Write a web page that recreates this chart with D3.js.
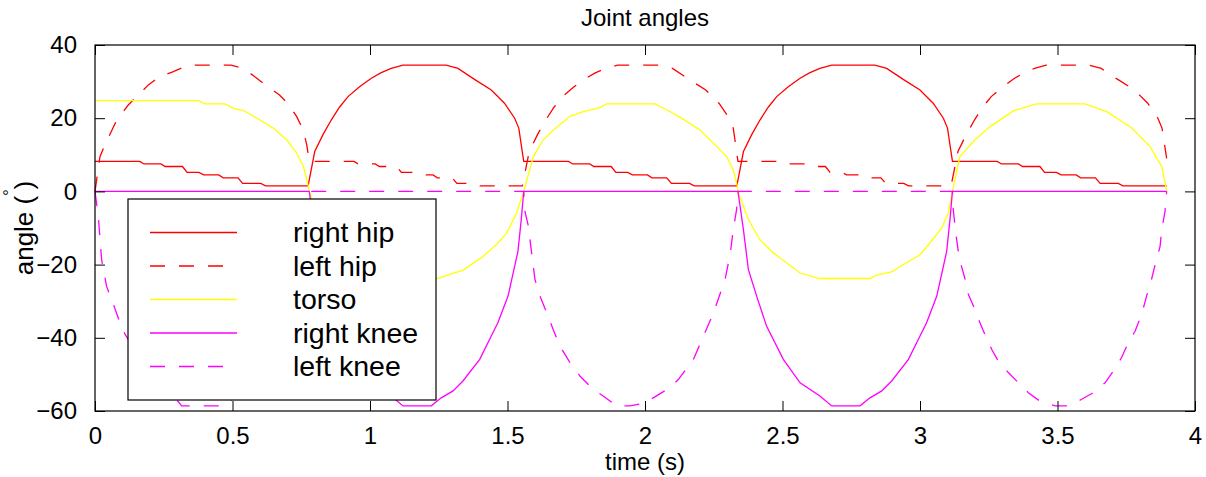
<!DOCTYPE html>
<html>
<head>
<meta charset="utf-8">
<script src="https://cdn.jsdelivr.net/npm/d3@7"></script>
<style>
  body { margin: 0; background: #fff; }
  text { font-family: "Liberation Sans", Arial, Helvetica, sans-serif; fill: #000; }
</style>
</head>
<body>
<div id="vis"></div>
<script>

// time (s), angle (deg)
var rightHip = [
  [0,8.2],[0.163,8.2],[0.178,7.5],[0.24,7.5],[0.255,6.8],[0.318,6.8],[0.335,5.2],[0.378,5.2],[0.395,4.5],[0.45,4.5],[0.466,3.7],[0.52,3.7],[0.537,2.2],[0.603,2.2],[0.62,1.5],[0.775,1.5],
  [0.799,10.9],[0.829,15.5],[0.859,19.5],[0.889,23],[0.92,25.9],[0.962,28.6],[1.005,30.9],[1.039,32.4],[1.077,33.6],[1.12,34.5],[1.277,34.5],[1.32,33.6],[1.38,30.6],[1.441,27.7],[1.489,24.1],[1.526,20],[1.541,17.3],
  [1.559,8.2],[1.722,8.2],[1.737,7.5],[1.799,7.5],[1.814,6.8],[1.877,6.8],[1.894,5.2],[1.937,5.2],[1.954,4.5],[2.009,4.5],[2.025,3.7],[2.079,3.7],[2.096,2.2],[2.162,2.2],[2.179,1.5],[2.334,1.5],
  [2.358,10.9],[2.388,15.5],[2.418,19.5],[2.448,23],[2.479,25.9],[2.521,28.6],[2.564,30.9],[2.598,32.4],[2.636,33.6],[2.679,34.5],[2.836,34.5],[2.879,33.6],[2.939,30.6],[3.0,27.7],[3.048,24.1],[3.085,20],[3.1,17.3],
  [3.118,8.2],[3.281,8.2],[3.296,7.5],[3.358,7.5],[3.373,6.8],[3.436,6.8],[3.453,5.2],[3.496,5.2],[3.513,4.5],[3.568,4.5],[3.584,3.7],[3.638,3.7],[3.655,2.2],[3.721,2.2],[3.738,1.5],[3.897,1.5]
];

var leftHip = [
  [0,0],[0.018,9.5],[0.036,12.7],[0.079,19.5],[0.121,23.6],[0.158,26.4],[0.194,29.1],[0.236,31.4],[0.285,32.7],[0.327,34.1],[0.345,34.5],[0.495,34.5],[0.54,33.6],[0.58,31.4],[0.62,29.1],[0.67,26.4],[0.70,24.1],[0.733,20.5],[0.757,16.8],[0.77,12.7],
  [0.779,8.2],[0.942,8.2],[0.957,7.5],[1.019,7.5],[1.034,6.8],[1.097,6.8],[1.114,5.2],[1.157,5.2],[1.174,4.5],[1.229,4.5],[1.245,3.7],[1.299,3.7],[1.316,2.2],[1.382,2.2],[1.399,1.5],[1.554,1.5],
  [1.579,10.9],[1.609,15.5],[1.639,19.5],[1.669,23],[1.7,25.9],[1.742,28.6],[1.785,30.9],[1.819,32.4],[1.857,33.6],[1.9,34.5],[2.057,34.5],[2.1,33.6],[2.16,30.6],[2.221,27.7],[2.269,24.1],[2.306,20],[2.321,17.3],
  [2.338,8.2],[2.501,8.2],[2.516,7.5],[2.578,7.5],[2.593,6.8],[2.656,6.8],[2.673,5.2],[2.716,5.2],[2.733,4.5],[2.788,4.5],[2.804,3.7],[2.858,3.7],[2.875,2.2],[2.941,2.2],[2.958,1.5],[3.113,1.5],
  [3.138,10.9],[3.168,15.5],[3.198,19.5],[3.228,23],[3.259,25.9],[3.301,28.6],[3.344,30.9],[3.378,32.4],[3.416,33.6],[3.459,34.5],[3.616,34.5],[3.659,33.6],[3.719,30.6],[3.78,27.7],[3.828,24.1],[3.865,20],[3.88,17.3],[3.897,9]
];

var torso = [
  [0,24.8],[0.375,24.8],[0.4,23.9],[0.473,23.9],[0.503,22.7],[0.54,22.1],[0.6,19.5],[0.648,17.3],[0.697,14.1],[0.733,10.5],[0.758,6.8],[0.776,1.4],[0.779,0],
  [0.817,-7.7],[0.859,-13.2],[0.908,-16.8],[1.005,-22.3],[1.077,-23.8],[1.245,-23.8],[1.29,-22.7],[1.339,-21.5],[1.412,-17.7],[1.46,-14.5],[1.497,-11.4],[1.533,-5.9],[1.559,0],
  [1.594,9.5],[1.63,14.1],[1.667,16.8],[1.727,20.5],[1.776,21.8],[1.836,22.9],[1.86,23.9],[2.036,23.9],[2.079,22.3],[2.127,20.3],[2.2,16.8],[2.249,13.2],[2.297,9.5],[2.321,5.9],[2.336,1.4],[2.338,0],
  [2.376,-7.7],[2.418,-13.2],[2.467,-16.8],[2.564,-22.3],[2.636,-23.8],[2.818,-23.8],[2.842,-22.9],[2.897,-22],[2.927,-20.6],[3.0,-17.3],[3.036,-14.1],[3.079,-10],[3.103,-5.9],[3.118,0],
  [3.145,9.5],[3.2,14.1],[3.255,17.7],[3.339,22],[3.424,23.9],[3.6,23.9],[3.679,21.8],[3.77,17.3],[3.836,12.3],[3.879,6.8],[3.897,0]
];

var rightKnee = [
  [0,0],[0.779,0],
  [0.799,-10.5],[0.817,-21.4],[0.847,-28.6],[0.883,-36.8],[0.944,-45.9],[1.005,-52.3],[1.077,-55.9],[1.12,-58.6],[1.223,-58.6],[1.259,-56.4],[1.302,-54.5],[1.338,-51.8],[1.399,-45.9],[1.441,-39.5],[1.465,-35.9],[1.502,-28.6],[1.538,-16.4],[1.55,-7.7],[1.559,0],
  [2.338,0],
  [2.358,-10.5],[2.376,-21.4],[2.406,-28.6],[2.442,-36.8],[2.503,-45.9],[2.564,-52.3],[2.636,-55.9],[2.679,-58.6],[2.782,-58.6],[2.818,-56.4],[2.861,-54.5],[2.897,-51.8],[2.958,-45.9],[3.0,-39.5],[3.024,-35.9],[3.061,-28.6],[3.097,-16.4],[3.109,-7.7],[3.118,0],
  [3.897,0]
];

var leftKnee = [
  [0,0],[0.012,-6.8],[0.024,-18.6],[0.042,-25.9],[0.065,-30.5],[0.091,-35.9],[0.109,-39],[0.143,-43.2],[0.167,-46.4],[0.203,-49.5],[0.246,-52.7],[0.276,-55],[0.315,-58.6],[0.466,-58.6],[0.5,-56.8],[0.535,-55],[0.575,-52.3],[0.605,-49.1],[0.63,-45.4],[0.655,-41.3],[0.675,-38.2],[0.695,-33.6],[0.712,-28.6],[0.728,-24],[0.74,-20],[0.755,-15],[0.762,-10.5],[0.773,-5.5],[0.779,0],
  [1.559,0],
  [1.562,-5],[1.576,-9.5],[1.588,-17],[1.6,-24.1],[1.62,-29],[1.643,-33.2],[1.665,-37.5],[1.691,-42.3],[1.725,-46.5],[1.764,-50.5],[1.812,-54.1],[1.848,-55.9],[1.897,-58.6],[1.945,-58.6],[2.006,-57.7],[2.03,-56.4],[2.091,-53.6],[2.121,-51.4],[2.176,-45.9],[2.21,-40],[2.249,-33.2],[2.291,-24.1],[2.31,-17],[2.321,-10.4],[2.333,-5],[2.338,0],
  [3.118,0],
  [3.121,-5],[3.13,-11.4],[3.14,-16.8],[3.151,-20.5],[3.164,-24],[3.176,-28.2],[3.2,-32.3],[3.218,-35.9],[3.236,-39.1],[3.261,-43.2],[3.285,-46.4],[3.321,-49.5],[3.364,-52.7],[3.394,-55],[3.436,-57.3],[3.491,-58.6],[3.539,-58.6],[3.588,-56.8],[3.63,-55],[3.673,-52.3],[3.703,-49.1],[3.733,-45.4],[3.758,-41.3],[3.782,-38.2],[3.806,-33.6],[3.824,-28.6],[3.842,-24],[3.855,-20],[3.873,-15],[3.879,-10.5],[3.891,-5.5],[3.897,0]
];

var seriesNames = ['right hip', 'left hip', 'torso', 'right knee', 'left knee'];
var xTicks = [0, 0.5, 1, 1.5, 2, 2.5, 3, 3.5, 4];
var yTicks = [-60, -40, -20, 0, 20, 40];


function jointChart() {

  var width = 1206;
  var height = 477;
  var margin = { top: 45, right: 11, bottom: 66, left: 95 };
  var innerW = width - margin.left - margin.right;
  var innerH = height - margin.top - margin.bottom;
  var tickLen = 10;

  var styles = [
    { data: rightHip, color: '#ff0000', dash: null },
    { data: leftHip, color: '#ff0000', dash: '15,14' },
    { data: torso, color: '#ffff00', dash: null },
    { data: rightKnee, color: '#ff00ff', dash: null },
    { data: leftKnee, color: '#ff00ff', dash: '15,14' }
  ];

  var x = d3.scaleLinear().domain([0, 4]).range([0, innerW]);
  var y = d3.scaleLinear().domain([-60, 40]).range([innerH, 0]);

  var svg = d3.select('#vis').append('svg')
    .attr('width', width)
    .attr('height', height);

  var g = svg.append('g')
    .attr('transform', 'translate(' + margin.left + ',' + margin.top + ')');

  var line = d3.line()
    .x(function (d) { return x(d[0]); })
    .y(function (d) { return y(d[1]); });

  g.selectAll('.series')
    .data(styles)
    .enter().append('path')
    .attr('class', 'series')
    .attr('d', function (d) { return line(d.data); })
    .attr('fill', 'none')
    .attr('stroke', function (d) { return d.color; })
    .attr('stroke-width', 1.3)
    .attr('stroke-dasharray', function (d) { return d.dash; });

  // axes, ticks point inward on every side
  var fmt = function (d) { return String(d).replace('-', '\u2212'); };

  g.append('g')
    .attr('transform', 'translate(0,' + innerH + ')')
    .call(d3.axisBottom(x).tickValues(xTicks).tickSizeInner(-tickLen).tickSizeOuter(0).tickPadding(16).tickFormat(fmt));
  g.append('g')
    .call(d3.axisTop(x).tickValues(xTicks).tickSizeInner(-tickLen).tickSizeOuter(0).tickFormat(''));
  g.append('g')
    .call(d3.axisLeft(y).tickValues(yTicks).tickSizeInner(-tickLen).tickSizeOuter(0).tickPadding(18).tickFormat(fmt));
  g.append('g')
    .attr('transform', 'translate(' + innerW + ',0)')
    .call(d3.axisRight(y).tickValues(yTicks).tickSizeInner(-tickLen).tickSizeOuter(0).tickFormat(''));

  g.selectAll('.domain').remove();
  g.selectAll('.tick line').attr('stroke', '#000');
  g.selectAll('.tick text')
    .style('font-size', '24px')
    .style('font-family', '"Liberation Sans", Arial, sans-serif')
    .attr('fill', '#000');

  g.append('rect')
    .attr('width', innerW)
    .attr('height', innerH)
    .attr('fill', 'none')
    .attr('stroke', '#000')
    .attr('stroke-width', 1.2);

  svg.append('text')
    .attr('x', margin.left + innerW / 2)
    .attr('y', 26)
    .attr('text-anchor', 'middle')
    .style('font-size', '24px')
    .text('Joint angles');

  svg.append('text')
    .attr('x', margin.left + innerW / 2)
    .attr('y', 470)
    .attr('text-anchor', 'middle')
    .style('font-size', '24px')
    .text('time (s)');

  var yl = svg.append('text')
    .attr('transform', 'translate(33,' + (margin.top + innerH / 2) + ') rotate(-90)')
    .attr('text-anchor', 'middle')
    .style('font-size', '26px');
  yl.append('tspan').text('angle (');
  yl.append('tspan').attr('dy', -18).style('font-size', '16px').text('\u00b0');
  yl.append('tspan').attr('dy', 18).text(')');

  // legend
  var lg = svg.append('g').attr('transform', 'translate(128,199)');
  lg.append('rect')
    .attr('width', 308)
    .attr('height', 201)
    .attr('fill', '#fff')
    .attr('stroke', '#000')
    .attr('stroke-width', 1.2);

  var rows = lg.selectAll('.row')
    .data(styles)
    .enter().append('g')
    .attr('class', 'row')
    .attr('transform', function (d, i) { return 'translate(0,' + (33.5 + i * 33.5) + ')'; });

  rows.append('line')
    .attr('x1', 22).attr('x2', 109)
    .attr('stroke', function (d) { return d.color; })
    .attr('stroke-width', 1.3)
    .attr('stroke-dasharray', function (d) { return d.dash; });

  rows.append('text')
    .attr('x', 165)
    .attr('dy', '0.35em')
    .style('font-size', '28.5px')
    .text(function (d, i) { return seriesNames[i]; });
}

jointChart();

</script>
</body>
</html>
